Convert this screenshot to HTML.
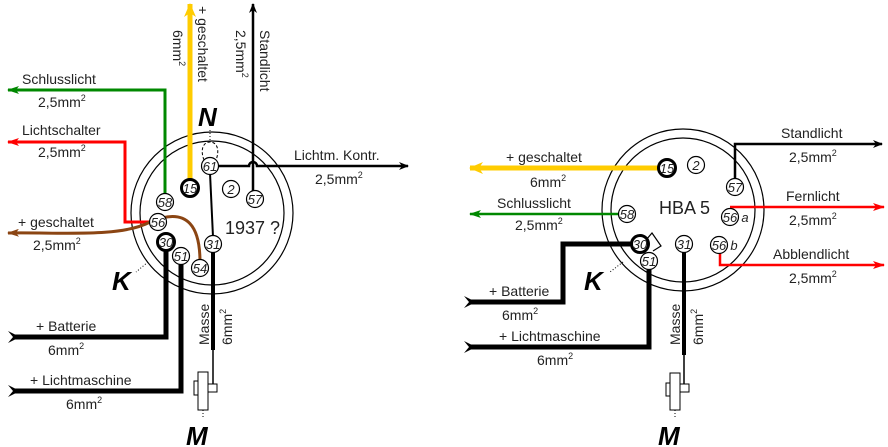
<!DOCTYPE html>
<html><head><meta charset="utf-8"><style>
html,body{margin:0;padding:0;background:#fff}
svg{display:block}
text{font-family:"Liberation Sans",sans-serif;fill:#222}
.p{font-size:13px;font-style:italic;text-anchor:middle}
.l{font-size:14px}
.big{font-size:26px;font-weight:bold;font-style:italic;fill:#000}
</style></head><body>
<svg width="888" height="447" viewBox="0 0 888 447" xmlns="http://www.w3.org/2000/svg">
<defs>
<marker id="ab" markerWidth="10" markerHeight="8" refX="9" refY="4" orient="auto" markerUnits="userSpaceOnUse"><path d="M0,0 L10,4 L0,8 L3,4z" fill="#000"/></marker>
<marker id="ar" markerWidth="12" markerHeight="8" refX="11" refY="4" orient="auto" markerUnits="userSpaceOnUse"><path d="M0,0 L12,4 L0,8 L3,4z" fill="#f00"/></marker>
<marker id="ag" markerWidth="12" markerHeight="8" refX="11" refY="4" orient="auto" markerUnits="userSpaceOnUse"><path d="M0,0 L12,4 L0,8 L3,4z" fill="#080"/></marker>
<marker id="ay" markerWidth="14" markerHeight="12" refX="13" refY="6" orient="auto" markerUnits="userSpaceOnUse"><path d="M0,0 L14,6 L0,12 L4,6z" fill="#fc0"/></marker>
<marker id="an" markerWidth="12" markerHeight="8" refX="11" refY="4" orient="auto" markerUnits="userSpaceOnUse"><path d="M0,0 L12,4 L0,8 L3,4z" fill="#8b4513"/></marker>
</defs>

<!-- LEFT -->
<circle cx="212" cy="213" r="81" fill="none" stroke="#000" stroke-width="1.2"/>
<circle cx="212" cy="213" r="72" fill="none" stroke="#000" stroke-width="1.2"/>
<polyline points="165,196 165,90 8,90" fill="none" stroke="#080" stroke-width="3" marker-end="url(#ag)"/>
<polyline points="151,222 125,222 125,142 8,142" fill="none" stroke="#f00" stroke-width="3" marker-end="url(#ar)"/>
<path d="M200,262 C200,230 190,205 150,222 C120,238 60,232 8,233" fill="none" stroke="#8b4513" stroke-width="3" marker-end="url(#an)"/>
<line x1="190" y1="182" x2="190" y2="4" stroke="#fc0" stroke-width="5" marker-end="url(#ay)"/>
<line x1="253" y1="192" x2="253" y2="4" stroke="#000" stroke-width="2.5" marker-end="url(#ab)"/>
<path d="M217,166 L249,166 A4,4 0 0 1 257,166 L408,166" fill="none" stroke="#000" stroke-width="2.5" marker-end="url(#ab)"/>
<line x1="210" y1="173" x2="213" y2="237" stroke="#000" stroke-width="2"/>
<path d="M204,160 C200,150 203,142 210,142 C217,142 220,150 216,160" fill="none" stroke="#000" stroke-dasharray="3,2"/>
<line x1="210" y1="140" x2="210" y2="128" stroke="#000" stroke-dasharray="1,2"/>
<polyline points="166,249 166,337 14,337" fill="none" stroke="#000" stroke-width="5"/>
<path d="M8,331 L20,337 L8,343 L13,337z" fill="#000"/>
<polyline points="181,263 181,391 14,391" fill="none" stroke="#000" stroke-width="5"/>
<path d="M8,385 L20,391 L8,397 L13,391z" fill="#000"/>
<line x1="213" y1="251" x2="213" y2="350" stroke="#000" stroke-width="4"/>
<line x1="213" y1="350" x2="213" y2="392" stroke="#000" stroke-width="1.5"/>
<rect x="198" y="372" width="10" height="38" fill="#fff" stroke="#000"/>
<rect x="194" y="381" width="4" height="14" fill="#fff" stroke="#000"/>
<rect x="208" y="384" width="9" height="8" fill="#fff" stroke="#000"/>
<line x1="203" y1="410" x2="203" y2="418" stroke="#000" stroke-dasharray="1,2"/>
<line x1="148" y1="262" x2="136" y2="272" stroke="#000" stroke-dasharray="1,2"/>
<g fill="#fff" stroke="#000" stroke-width="1.2">
<circle cx="210" cy="166" r="8.5"/><circle cx="190" cy="188" r="8.5" stroke-width="3"/><circle cx="231" cy="189" r="8.5"/>
<circle cx="255" cy="199" r="8.5"/><circle cx="165" cy="202" r="8.5"/><circle cx="158" cy="222" r="8.5"/>
<circle cx="166" cy="242" r="8.5" stroke-width="3"/><circle cx="181" cy="256" r="8.5"/><circle cx="200" cy="268" r="8.5"/>
<circle cx="213" cy="244" r="8.5"/>
</g>
<g class="p">
<text x="210" y="171">61</text><text x="190" y="193">15</text><text x="231" y="194">2</text>
<text x="255" y="204">57</text><text x="165" y="207">58</text><text x="158" y="227">56</text>
<text x="166" y="247">30</text><text x="181" y="261">51</text><text x="200" y="273">54</text><text x="213" y="249">31</text>
</g>
<text x="225" y="234" style="font-size:18px">1937 ?</text>
<text x="22" y="84" class="l">Schlusslicht</text><text x="38" y="107" class="l">2,5mm<tspan font-size="9" dy="-6">2</tspan></text>
<text x="22" y="135" class="l">Lichtschalter</text><text x="38" y="157" class="l">2,5mm<tspan font-size="9" dy="-6">2</tspan></text>
<text x="18" y="227" class="l">+ geschaltet</text><text x="33" y="250" class="l">2,5mm<tspan font-size="9" dy="-6">2</tspan></text>
<text x="294" y="160" class="l">Lichtm. Kontr.</text><text x="315" y="184" class="l">2,5mm<tspan font-size="9" dy="-6">2</tspan></text>
<text x="36" y="331" class="l">+ Batterie</text><text x="48" y="355" class="l">6mm<tspan font-size="9" dy="-6">2</tspan></text>
<text x="30" y="385" class="l">+ Lichtmaschine</text><text x="66" y="409" class="l">6mm<tspan font-size="9" dy="-6">2</tspan></text>
<text class="l" transform="translate(198,6) rotate(90)">+ geschaltet</text>
<text class="l" transform="translate(173,30) rotate(90)">6mm<tspan font-size="9" dy="-6">2</tspan></text>
<text class="l" transform="translate(260,30) rotate(90)">Standlicht</text>
<text class="l" transform="translate(236,30) rotate(90)">2,5mm<tspan font-size="9" dy="-6">2</tspan></text>
<text class="l" transform="translate(209,345) rotate(-90)">Masse</text>
<text class="l" transform="translate(232,345) rotate(-90)">6mm<tspan font-size="9" dy="-6">2</tspan></text>
<text x="198" y="126" class="big">N</text>
<text x="112" y="290" class="big">K</text>
<text x="186" y="445" class="big">M</text>

<!-- RIGHT -->
<circle cx="683" cy="210" r="81" fill="none" stroke="#000" stroke-width="1.2"/>
<circle cx="683" cy="210" r="72" fill="none" stroke="#000" stroke-width="1.2"/>
<line x1="660" y1="168" x2="470" y2="168" stroke="#fc0" stroke-width="5" marker-end="url(#ay)"/>
<line x1="620" y1="214" x2="470" y2="214" stroke="#080" stroke-width="2.5" marker-end="url(#ag)"/>
<polyline points="735,180 735,144 882,144" fill="none" stroke="#000" stroke-width="2.5" marker-end="url(#ab)"/>
<line x1="730" y1="207" x2="884" y2="207" stroke="#f00" stroke-width="2.5" marker-end="url(#ar)"/>
<polyline points="720,252 720,265 884,265" fill="none" stroke="#f00" stroke-width="2.5" marker-end="url(#ar)"/>
<polyline points="633,244 563,244 563,302 470,302" fill="none" stroke="#000" stroke-width="5"/>
<path d="M464,296 L476,302 L464,308 L469,302z" fill="#000"/>
<polyline points="649,268 649,347 470,347" fill="none" stroke="#000" stroke-width="5"/>
<path d="M464,341 L476,347 L464,353 L469,347z" fill="#000"/>
<path d="M646,240 L652,233 L661,246 L653,251" fill="none" stroke="#000" stroke-width="1.2"/>
<line x1="684" y1="251" x2="684" y2="355" stroke="#000" stroke-width="4"/>
<line x1="684" y1="355" x2="684" y2="390" stroke="#000" stroke-width="1.5"/>
<rect x="670" y="373" width="10" height="37" fill="#fff" stroke="#000"/>
<rect x="666" y="383" width="4" height="13" fill="#fff" stroke="#000"/>
<rect x="680" y="384" width="9" height="8" fill="#fff" stroke="#000"/>
<line x1="675" y1="410" x2="675" y2="418" stroke="#000" stroke-dasharray="1,2"/>
<line x1="623" y1="262" x2="610" y2="272" stroke="#000" stroke-dasharray="1,2"/>
<g fill="#fff" stroke="#000" stroke-width="1.2">
<circle cx="667" cy="168" r="8.5" stroke-width="3"/><circle cx="696" cy="165" r="8.5"/><circle cx="735" cy="187" r="8.5"/>
<circle cx="627" cy="214" r="8.5"/><circle cx="730" cy="217" r="8.5"/><circle cx="719" cy="245" r="8.5"/>
<circle cx="640" cy="244" r="8.5" stroke-width="3"/><circle cx="649" cy="261" r="8.5"/><circle cx="684" cy="244" r="8.5"/>
</g>
<g class="p">
<text x="667" y="173">15</text><text x="696" y="170">2</text><text x="735" y="192">57</text>
<text x="627" y="219">58</text><text x="730" y="222">56</text><text x="719" y="250">56</text>
<text x="640" y="249">30</text><text x="649" y="266">51</text><text x="684" y="249">31</text>
<text x="745" y="222">a</text><text x="734" y="250">b</text>
</g>
<text x="659" y="214" style="font-size:18px">HBA 5</text>
<text x="506" y="162" class="l">+ geschaltet</text><text x="530" y="187" class="l">6mm<tspan font-size="9" dy="-6">2</tspan></text>
<text x="497" y="208" class="l">Schlusslicht</text><text x="515" y="230" class="l">2,5mm<tspan font-size="9" dy="-6">2</tspan></text>
<text x="781" y="138" class="l">Standlicht</text><text x="789" y="162" class="l">2,5mm<tspan font-size="9" dy="-6">2</tspan></text>
<text x="786" y="201" class="l">Fernlicht</text><text x="789" y="225" class="l">2,5mm<tspan font-size="9" dy="-6">2</tspan></text>
<text x="773" y="259" class="l">Abblendlicht</text><text x="789" y="283" class="l">2,5mm<tspan font-size="9" dy="-6">2</tspan></text>
<text x="489" y="296" class="l">+ Batterie</text><text x="502" y="320" class="l">6mm<tspan font-size="9" dy="-6">2</tspan></text>
<text x="499" y="341" class="l">+ Lichtmaschine</text><text x="537" y="365" class="l">6mm<tspan font-size="9" dy="-6">2</tspan></text>
<text class="l" transform="translate(680,345) rotate(-90)">Masse</text>
<text class="l" transform="translate(703,345) rotate(-90)">6mm<tspan font-size="9" dy="-6">2</tspan></text>
<text x="584" y="290" class="big">K</text>
<text x="658" y="445" class="big">M</text>
</svg>
</body></html>
